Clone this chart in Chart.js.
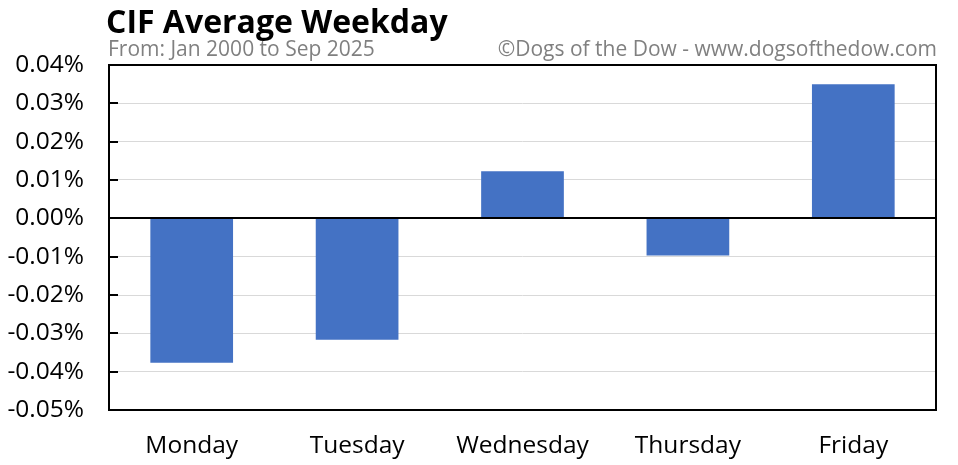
<!DOCTYPE html>
<html>
<head>
<meta charset="utf-8">
<script src="https://cdn.jsdelivr.net/npm/chart.js@4/dist/chart.umd.min.js"></script>
<style>
html,body{margin:0;padding:0;background:#fff;}
#wrap{width:958px;height:465px;position:relative;}
</style>
</head>
<body>
<div id="wrap"><canvas id="c" width="958" height="465"></canvas></div>
<script>
const categories = ["Monday", "Tuesday", "Wednesday", "Thursday", "Friday"];
const avgReturn = [-0.0377, -0.0317, 0.0123, -0.0097, 0.0350];
const yTicks = [0.04, 0.03, 0.02, 0.01, 0.00, -0.01, -0.02, -0.03, -0.04, -0.05];
const titleText = "CIF Average Weekday";
const subtitleText = "From: Jan 2000 to Sep 2025";
const creditText = "\u00A9Dogs of the Dow - www.dogsofthedow.com";

const FONT = "'Open Sans', Lato, sans-serif";

const framePlugin = {
  id: 'frame',
  afterDraw(chart) {
    const ctx = chart.ctx;
    const a = chart.chartArea;
    const y = chart.scales.y;
    ctx.save();
    ctx.strokeStyle = '#000';
    ctx.lineWidth = 2;
    yTicks.forEach(v => {
      if (v === 0) return;
      const py = Math.round(y.getPixelForValue(v));
      ctx.beginPath();
      ctx.moveTo(a.left, py);
      ctx.lineTo(a.left + 9, py);
      ctx.stroke();
    });
    const zy = Math.round(y.getPixelForValue(0));
    ctx.beginPath();
    ctx.moveTo(a.left, zy);
    ctx.lineTo(a.right, zy);
    ctx.stroke();
    ctx.strokeRect(a.left, a.top, a.right - a.left, a.bottom - a.top);
    ctx.textBaseline = 'alphabetic';
    ctx.fillStyle = '#000';
    ctx.textAlign = 'left';
    ctx.font = "bold 32px " + FONT;
    ctx.fillText(titleText, 106, 33);
    ctx.fillStyle = '#808080';
    ctx.font = "21px " + FONT;
    ctx.fillText(subtitleText, 108, 56);
    ctx.textAlign = 'right';
    ctx.fillText(creditText, 937, 56);
    ctx.restore();
  }
};

new Chart(document.getElementById('c'), {
  type: 'bar',
  data: {
    labels: categories,
    datasets: [{
      data: avgReturn,
      backgroundColor: '#4472C4',
      borderWidth: 0,
      categoryPercentage: 1.0,
      barPercentage: 0.5
    }]
  },
  options: {
    responsive: false,
    animation: false,
    devicePixelRatio: 1,
    layout: { padding: { left: 0, right: 22, top: 65, bottom: 0 } },
    plugins: { legend: { display: false }, tooltip: { enabled: false } },
    scales: {
      x: {
        grid: { display: false, drawTicks: false },
        border: { display: false },
        ticks: { color: '#000', font: { family: FONT, size: 24.5 }, padding: 21, maxRotation: 0 },
        afterFit(s) { s.height = 55; }
      },
      y: {
        min: -0.05,
        max: 0.04,
        afterBuildTicks(s) { s.ticks = yTicks.map(v => ({ value: v })); },
        grid: { color: '#d9d9d9', lineWidth: 1, drawTicks: false },
        border: { display: false },
        ticks: {
          color: '#000',
          font: { family: FONT, size: 24.5 },
          padding: 25,
          callback: v => v.toFixed(2) + '%'
        },
        afterFit(s) { s.width = 109; }
      }
    }
  },
  plugins: [framePlugin]
});
</script>
</body>
</html>
